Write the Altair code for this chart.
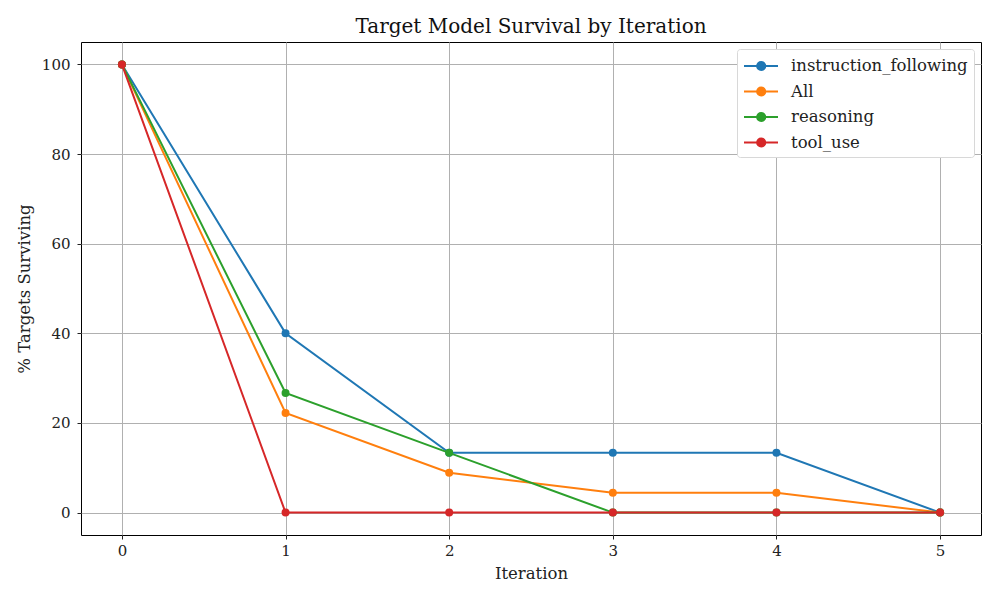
import altair as alt
import pandas as pd

iterations = [0, 1, 2, 3, 4, 5]
series_names = ["instruction_following", "All", "reasoning", "tool_use"]
instruction_following = [100, 40.0, 13.33, 13.33, 13.33, 0]
all_targets = [100, 22.22, 8.89, 4.44, 4.44, 0]
reasoning = [100, 26.67, 13.33, 0, 0, 0]
tool_use = [100, 0, 0, 0, 0, 0]
colors = ["#1f77b4", "#ff7f0e", "#2ca02c", "#d62728"]

rows = []
for i, (name, vals) in enumerate(zip(series_names, [instruction_following, all_targets, reasoning, tool_use])):
    for it, v in zip(iterations, vals):
        rows.append({"Iteration": it, "Survival": v, "Category": name, "order": i})
df = pd.DataFrame(rows)

FONT = "DejaVu Serif"

color = alt.Color(
    "Category:N",
    scale=alt.Scale(domain=series_names, range=colors),
    sort=series_names,
    legend=alt.Legend(
        title=None,
        orient="top-right",
        offset=7,
        symbolType="M-1,0L2.4,0M0.3,0A0.42,0.42 0 1,0 1.14,0A0.42,0.42 0 1,0 0.3,0Z",
        symbolSize=400,
        symbolStrokeWidth=1.8,
        labelFont=FONT,
        labelFontSize=16.5,
        labelColor="#222222",
        labelLimit=0,
        rowPadding=5.5,
        padding=6,
        fillColor="white",
        strokeColor="#d8d8d8",
        cornerRadius=3,
        labelOffset=26,
    ),
)

x = alt.X(
    "Iteration:Q",
    scale=alt.Scale(domain=[-0.25, 5.25], nice=False, zero=False),
    axis=alt.Axis(values=iterations, format="d", title="Iteration", labelPadding=4),
)
y = alt.Y(
    "Survival:Q",
    scale=alt.Scale(domain=[-5, 105], nice=False, zero=False),
    axis=alt.Axis(values=[0, 20, 40, 60, 80, 100], format="d", title="% Targets Surviving", labelPadding=7),
)

layers = []
for i, name in enumerate(series_names):
    sub = df[df["Category"] == name]
    layers.append(alt.Chart(sub).mark_line(strokeWidth=2).encode(x=x, y=y, color=color))
    layers.append(alt.Chart(sub).mark_point(filled=True, size=64, opacity=1).encode(x=x, y=y, color=color))

chart = alt.layer(*layers).properties(
    width=900,
    height=493,
    background="white",
    title=alt.TitleParams(
        "Target Model Survival by Iteration",
        font=FONT,
        fontSize=20,
        fontWeight="normal",
        color="#111111",
        offset=5,
    ),
    autosize=alt.AutoSizeParams(type="none"),
    padding={"left": 73, "top": 34, "right": 10, "bottom": 50},
).configure_axis(
    labelFont=FONT,
    labelFontSize=15,
    labelColor="#222222",
    titleFont=FONT,
    titleFontSize=16.5,
    titleFontWeight="normal",
    titleColor="#222222",
    grid=True,
    gridColor="#b0b0b0",
    gridWidth=1,
    domain=False,
    tickColor="#222222",
    tickSize=4,
).configure_axisX(
    titlePadding=7,
).configure_axisY(
    titlePadding=9,
).configure_view(
    stroke="#000000",
    strokeWidth=1,
)

chart.save("out.html", embed_options={"renderer": "svg", "actions": False})
